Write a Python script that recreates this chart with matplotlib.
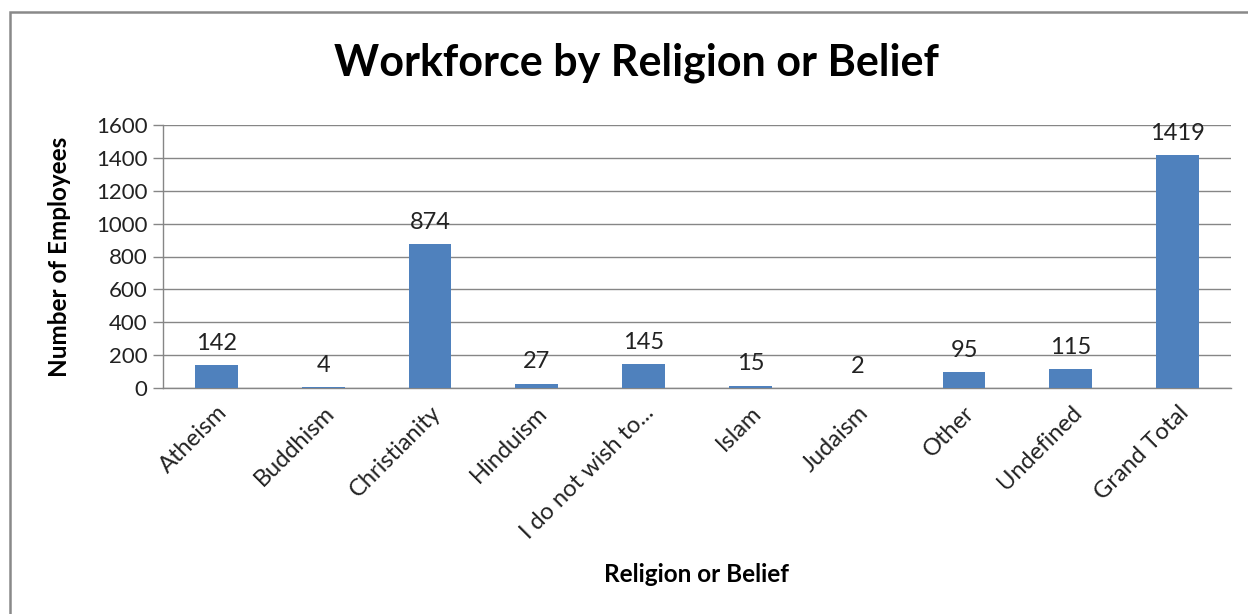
import matplotlib.pyplot as plt
from matplotlib.patches import Rectangle

categories = ['Atheism', 'Buddhism', 'Christianity', 'Hinduism', 'I do not wish to...',
              'Islam', 'Judaism', 'Other', 'Undefined', 'Grand Total']
employees = [142, 4, 874, 27, 145, 15, 2, 95, 115, 1419]
y_ticks = [0, 200, 400, 600, 800, 1000, 1200, 1400, 1600]

plt.rcParams['font.family'] = ['Lato', 'DejaVu Sans']

fig = plt.figure(figsize=(12.48, 6.14), dpi=100)
ax = fig.add_axes([163 / 1248, 1 - 388 / 614, (1231 - 163) / 1248, (388 - 125) / 614])

x = range(len(categories))
ax.bar(x, employees, width=0.4, color='#4F81BD', zorder=3)

for xi, v in zip(x, employees):
    ax.annotate(str(v), (xi, v), xytext=(0, 8), textcoords='offset points',
                ha='center', va='bottom', fontsize=17, color='#222222')

ax.set_xlim(-0.5, len(categories) - 0.5)
ax.set_ylim(0, 1600)
ax.set_yticks(y_ticks)
ax.set_yticklabels([str(t) for t in y_ticks], fontsize=16, color='#222222')
ax.yaxis.grid(True, color='#868686', linewidth=1, zorder=0)

ax.set_xticks(list(x))
ax.set_xticklabels(categories, rotation=45, ha='right', rotation_mode='anchor',
                   fontsize=17, color='#222222')
ax.tick_params(axis='x', length=0, pad=10)
ax.tick_params(axis='y', length=7, color='#868686', width=1, pad=4)

for s in ['top', 'right']:
    ax.spines[s].set_visible(False)
for s in ['left', 'bottom']:
    ax.spines[s].set_color('#868686')
    ax.spines[s].set_linewidth(1)

ax.set_ylabel('Number of Employees', fontsize=17.5, fontweight='bold')
ax.yaxis.set_label_coords((71 - 163) / 1068, 0.5)
fig.text(697 / 1248, 1 - 574 / 614, 'Religion or Belief', ha='center', va='center',
         fontsize=17.5, fontweight='bold')
fig.text(636 / 1248, 1 - 63 / 614, 'Workforce by Religion or Belief', ha='center', va='center',
         fontsize=31, fontweight='bold')

# chart border
fig.patches.append(Rectangle((10 / 1248, -0.05), 1.2, 1 - 12 / 614 + 0.05,
                             transform=fig.transFigure, fill=False,
                             edgecolor='#898989', linewidth=1.8))

fig.savefig('out.png', dpi=100)
